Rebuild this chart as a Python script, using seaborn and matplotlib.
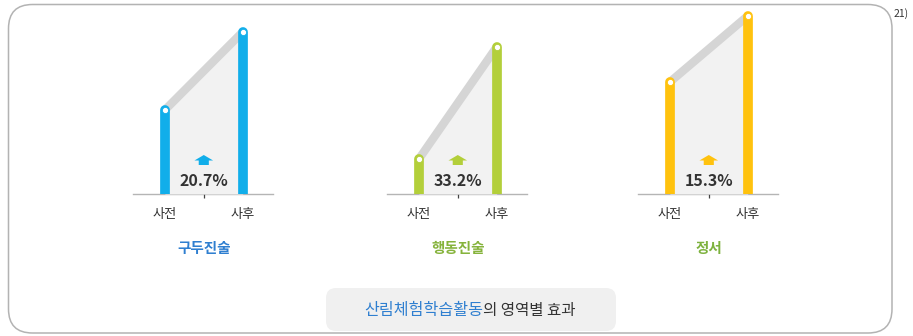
import numpy as np
import pandas as pd
import matplotlib
matplotlib.use("Agg")
import matplotlib.pyplot as plt
from matplotlib.patches import FancyBboxPatch, Polygon
import seaborn as sns

# ---- data ----
areas = ["구두진술", "행동진술", "정서"]
stages = ["사전", "사후"]
pre_values = [84, 35, 112]
post_values = [162, 147, 178]
increase_pct = [20.7, 33.2, 15.3]
caption_main = "산림체험학습활동"
caption_rest = "의 영역별 효과"
footnote = "21)"

# ---- style ----
sns.set_theme(style="white")
plt.rcParams["font.family"] = ["Noto Sans CJK KR", "DejaVu Sans"]

bar_colors = ["#11aeea", "#b3cf3a", "#ffc20e"]
title_colors = ["#2f7fd0", "#86b33c", "#7db23e"]
text_dark = "#333333"

W, H = 913, 336
fig = plt.figure(figsize=(W / 100, H / 100), dpi=100)

# background layer in pixel units (y grows downward)
bg = fig.add_axes([0, 0, 1, 1])
bg.set_xlim(0, W)
bg.set_ylim(H, 0)
bg.axis("off")
bg.add_patch(FancyBboxPatch((8.5, 4.5), 883.5, 328.5,
                            boxstyle="round,pad=0,rounding_size=24",
                            fc="white", ec="#b3b3b3", lw=1.1, zorder=0))
bg.add_patch(FancyBboxPatch((326, 288), 290, 43,
                            boxstyle="round,pad=0,rounding_size=10",
                            fc="#f0f0f0", ec="none", zorder=1))
bg.text(483, 310, caption_main, color="#2f7fd0", fontsize=11.6,
        fontweight="medium", ha="right", va="center", zorder=2)
bg.text(483, 310, caption_rest, color=text_dark, fontsize=11.2,
        ha="left", va="center", zorder=2)
bg.text(901, 14, footnote, color=text_dark, fontsize=7.5,
        ha="center", va="center")

# panel placement (left edge in px), common baseline
panel_left = [133, 387, 638]
panel_width = 140
base_px, top_px = 194, 10
ymax = base_px - top_px
x0 = -0.41
x1 = 1.39

for i, area in enumerate(areas):
    ax = fig.add_axes([panel_left[i] / W, (H - base_px) / H,
                       panel_width / W, (base_px - top_px) / H])
    ax.set_facecolor("none")
    df = pd.DataFrame({"pos": [0, 1], "stage": stages,
                       "value": [pre_values[i], post_values[i]]})
    c = bar_colors[i]

    # shaded area between the two bars
    ax.fill_between(df["pos"], 0, df["value"], color="#f2f2f2",
                    lw=0, zorder=1)
    # gray connector between the bar tops
    sns.lineplot(data=df, x="pos", y="value", ax=ax, color="#d5d5d5",
                 lw=6.0, solid_capstyle="round", zorder=2)
    # rounded bars
    ax.vlines(df["pos"], 0, df["value"], colors=c, lw=7.0,
              capstyle="round", zorder=3)
    # white dots on the bar tops
    sns.scatterplot(data=df, x="pos", y="value", ax=ax, s=20,
                    color="white", edgecolor=c, linewidth=0.6, zorder=4)

    # up arrow and increase label
    ax_cx, ay = 0.5, 29
    aw, ah, sw, sh = 0.12, 5.5, 0.065, 4.5
    arrow = Polygon([(ax_cx - sw, ay), (ax_cx + sw, ay),
                     (ax_cx + sw, ay + sh), (ax_cx + aw, ay + sh),
                     (ax_cx, ay + sh + ah), (ax_cx - aw, ay + sh),
                     (ax_cx - sw, ay + sh)], closed=True,
                    fc=c, ec="none", zorder=5)
    ax.add_patch(arrow)
    ax.text(0.5, 13.5, f"{increase_pct[i]}%", ha="center", va="center",
            fontsize=11.5, fontweight="bold", color=text_dark, zorder=5)

    ax.set_xlim(x0, x1)
    ax.set_ylim(0, ymax)
    ax.set_xlabel("")
    ax.set_ylabel("")
    ax.set_yticks([])
    ax.set_xticks([0, 1])
    ax.set_xticklabels(stages, fontsize=9.5, color=text_dark)
    ax.tick_params(axis="x", length=0, pad=10)
    ax.set_xticks([0.5], minor=True)
    ax.tick_params(axis="x", which="minor", length=3, width=0.9,
                   color="#444444", direction="out", bottom=True)
    for s in ["left", "right", "top"]:
        ax.spines[s].set_visible(False)
    ax.spines["bottom"].set_color("#b5b5b5")
    ax.spines["bottom"].set_linewidth(1.0)
    ax.spines["bottom"].set_zorder(0.5)

    # area title below the panel
    bg.text(panel_left[i] + panel_width * (0.5 - x0) / (x1 - x0), 248, area,
            color=title_colors[i], fontsize=10.5, fontweight="bold",
            ha="center", va="center")

fig.savefig("out.png", dpi=100, facecolor="white")
